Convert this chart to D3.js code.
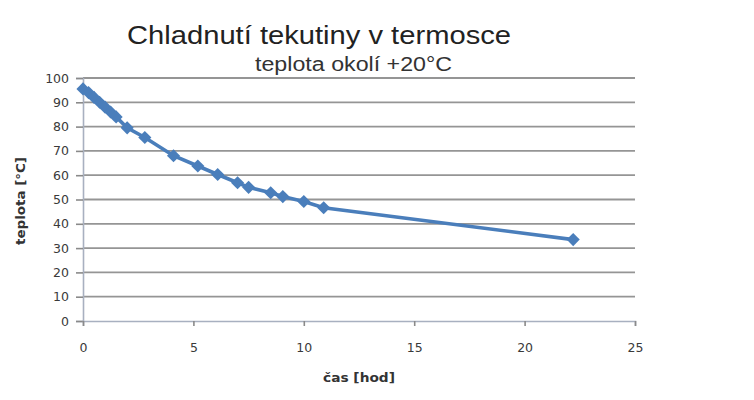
<!DOCTYPE html>
<html><head><meta charset="utf-8">
<script src="https://cdn.jsdelivr.net/npm/d3@7"></script>
<style>body{margin:0;background:#fff}</style>
</head><body>
<svg id="c" width="754" height="400"></svg>
<script>
const hours = [0, 0.25, 0.5, 0.75, 1.0, 1.25, 1.5, 2.0, 2.8, 4.1, 5.2, 6.1, 7.0, 7.5, 8.5, 9.05, 10.0, 10.9, 22.2];
const temps = [95.5, 94, 92, 90, 88, 86, 84, 79.5, 75.5, 68, 63.8, 60.3, 56.9, 55, 52.8, 51.2, 49.2, 46.6, 33.5];
const xTicks = [0, 5, 10, 15, 20, 25];
const yTicks = [0, 10, 20, 30, 40, 50, 60, 70, 80, 90, 100];
const title = "Chladnutí tekutiny v termosce";
const subtitle = "teplota okolí +20°C";
const xLabel = "čas [hod]";
const yLabel = "teplota [°C]";

const svg = d3.select("#c");
const x = d3.scaleLinear().domain([0, 25]).range([83, 635]);
const y = d3.scaleLinear().domain([0, 100]).range([321, 78]);

// grid
svg.append("g").selectAll("line").data(yTicks.filter(d => d > 0)).join("line")
  .attr("x1", x(0)).attr("x2", x(25)).attr("y1", d => y(d)).attr("y2", d => y(d))
  .attr("stroke", "#959595").attr("stroke-width", 1.8);

// axes
const yAxis = svg.append("g").attr("transform", `translate(${x(0)},0)`)
  .call(d3.axisLeft(y).tickValues(yTicks).tickSize(7).tickPadding(7));
const xAxis = svg.append("g").attr("transform", `translate(0,${y(0)})`)
  .call(d3.axisBottom(x).tickValues(xTicks).tickSize(5).tickPadding(17));
[yAxis, xAxis].forEach(a => {
  a.select(".domain").attr("stroke", "#a8b0c0").attr("stroke-width", 1.6);
  a.selectAll(".tick line").attr("stroke", "#8a8a8a").attr("stroke-width", 1.6);
  a.selectAll("text").attr("font-family", "'DejaVu Sans', sans-serif").attr("font-size", 12.5).attr("fill", "#3a3a3a");
});

// line
const pts = hours.map((h, i) => [h, temps[i]]);
svg.append("path").datum(pts)
  .attr("d", d3.line().x(d => x(d[0])).y(d => y(d[1])))
  .attr("fill", "none").attr("stroke", "#4a7ebb").attr("stroke-width", 3.6);
svg.append("g").selectAll("path").data(pts).join("path")
  .attr("d", d3.symbol(d3.symbolDiamond2, 110))
  .attr("transform", d => `translate(${x(d[0])},${y(d[1])})`)
  .attr("fill", "#4a7ebb");

// titles
svg.append("text").attr("x", 127).attr("y", 44)
  .attr("textLength", 384).attr("lengthAdjust", "spacingAndGlyphs")
  .attr("font-family", "'Liberation Sans', Arial, sans-serif").attr("font-size", 25).attr("fill", "#222")
  .text(title);
svg.append("text").attr("x", 255).attr("y", 71)
  .attr("textLength", 197).attr("lengthAdjust", "spacingAndGlyphs")
  .attr("font-family", "'Liberation Sans', Arial, sans-serif").attr("font-size", 19.5).attr("fill", "#333")
  .text(subtitle);
svg.append("text").attr("x", 323).attr("y", 382)
  .attr("textLength", 72).attr("lengthAdjust", "spacingAndGlyphs")
  .attr("font-family", "'DejaVu Sans', sans-serif").attr("font-weight", "bold").attr("font-size", 12).attr("fill", "#333")
  .text(xLabel);
svg.append("text").attr("transform", "translate(25,245) rotate(-90)")
  .attr("textLength", 88).attr("lengthAdjust", "spacingAndGlyphs")
  .attr("font-family", "'DejaVu Sans', sans-serif").attr("font-weight", "bold").attr("font-size", 12).attr("fill", "#333")
  .text(yLabel);
</script>
</body></html>
